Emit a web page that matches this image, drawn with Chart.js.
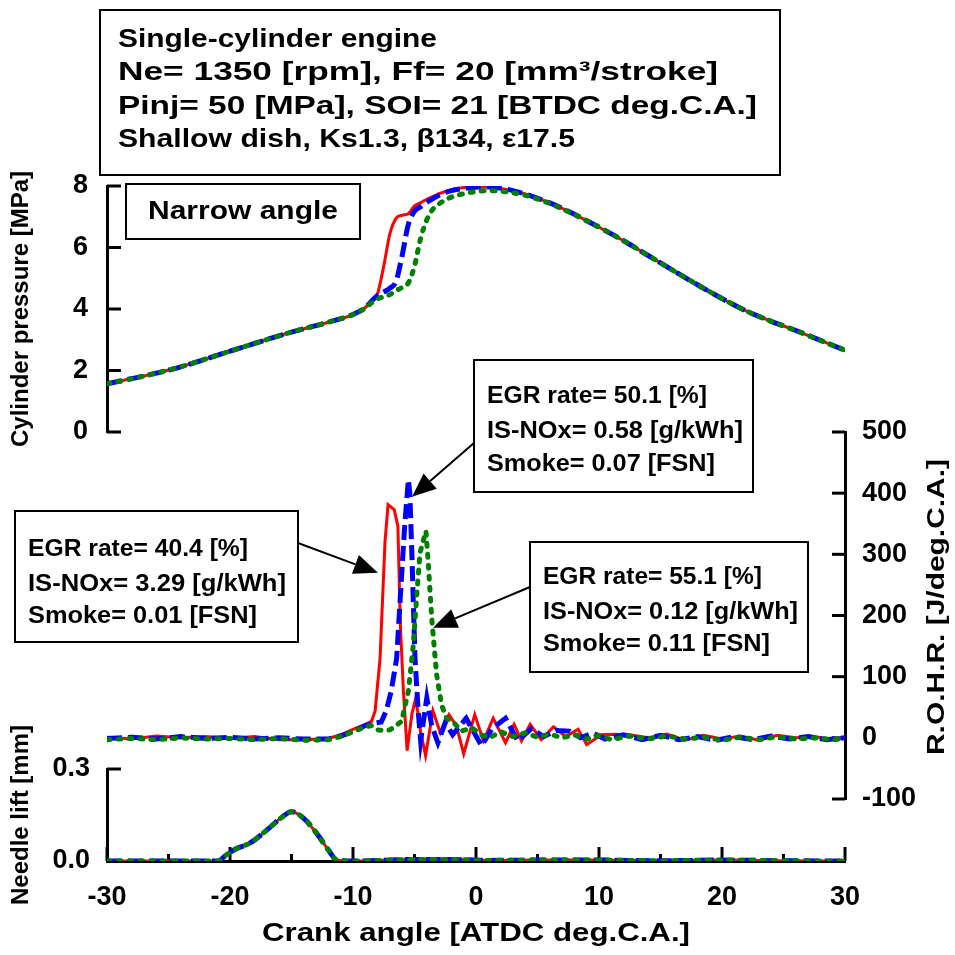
<!DOCTYPE html>
<html>
<head>
<meta charset="utf-8">
<script src="https://cdn.jsdelivr.net/npm/chart.js@4.4.1/dist/chart.umd.min.js"></script>
<style>
  html, body { margin: 0; padding: 0; background: #fff; }
  #wrap { width: 955px; height: 955px; }
</style>
</head>
<body>
<div id="wrap"><canvas id="c" width="955" height="955"></canvas></div>
<script>
// --- data ---
// crank angle [ATDC deg.C.A.] for the cylinder pressure traces
const pAngle = [-30,-27,-24,-21,-18,-15,-12,-10,-9,-8.5,-8,-7.5,-7,-6.5,-6,-5.5,-5,-4.5,-4,-3.5,
  -3,-2,-1,0,1,2,3,4,6,8,10,12,14,16,18,20,22,24,26,28,30];
// cylinder pressure [MPa]
const pRed = [1.57,1.82,2.12,2.5,2.88,3.25,3.57,3.82,4.05,4.25,4.5,5.4,6.45,6.95,7.05,7.1,7.35,7.46,7.57,7.66,
  7.75,7.88,7.95,7.97,7.97,7.92,7.84,7.74,7.45,7.08,6.66,6.22,5.74,5.26,4.79,4.34,3.93,3.6,3.3,2.98,2.66];
const pBlue = [1.57,1.82,2.12,2.5,2.88,3.25,3.57,3.82,4.05,4.25,4.45,4.55,4.68,4.9,5.75,6.75,7.18,7.33,7.47,7.59,
  7.7,7.85,7.92,7.96,7.97,7.93,7.85,7.74,7.45,7.08,6.66,6.22,5.74,5.26,4.79,4.34,3.93,3.6,3.3,2.98,2.66];
const pGreen = [1.57,1.82,2.12,2.5,2.88,3.25,3.57,3.82,4.03,4.2,4.33,4.4,4.47,4.6,4.7,4.85,5.4,6.3,6.9,7.25,
  7.42,7.64,7.75,7.82,7.85,7.83,7.78,7.7,7.43,7.07,6.66,6.22,5.74,5.26,4.79,4.34,3.93,3.6,3.3,2.98,2.66];

// rate of heat release [J/deg.C.A.]
const rRedAngle = [-30,-28,-26,-24,-22,-20,-18,-16,-14,-12,-11,-10,-9,-8.5,-8.2,-7.8,-7.4,-7.15,-6.65,-6.35,
  -6.15,-5.9,-5.6,-5.2,-4.9,-4.5,-4.1,-3.5,-2.9,-2.2,-1.6,-1.0,-0.1,0.6,1.4,2.4,3.1,3.7,4.4,5.3,
  6.3,7.3,8.3,9.0,10.2,11.3,12.5,14,15.5,17,18.5,20,21.5,23,24.5,26,27.5,29,30];
const rRed = [1,-2,3,0,2,-1,2,-3,-3,-1,5,14,22,27,44,130,320,381,373,346,
  184,76,-21,40,65,10,-29,44,8,38,20,-26,38,-5,32,-8,22,-5,22,-3,
  18,2,14,-11,5,6,5,0,6,-4,4,-2,3,-4,4,0,2,-3,0];
const rBlueAngle = [-30,-28,-26,-24,-22,-20,-18,-16,-14,-12,-11,-10,-9,-8.3,-7.7,-7.3,-6.9,-6.45,-6.05,-5.8,
  -5.5,-5.38,-5.2,-4.96,-4.7,-4.5,-4.0,-3.6,-3.1,-2.5,-1.9,-0.8,0.45,1.3,2.4,3.4,4.5,5.5,6.5,7.6,
  8.5,9.5,10.5,12,13.5,15,16.5,18,19.5,21,22.5,24,25.5,27,28.5,30];
const rBlue = [-1,1,-2,2,-1,1,-2,0,-2,-2,3,10,20,24,26,44,76,130,265,346,
  422,400,292,130,44,-5,65,20,-8,25,5,32,-13,15,32,-5,15,2,12,11,
  0,8,-2,5,-3,4,-3,2,-4,2,-3,3,-2,2,-3,0];
const rGreenAngle = [-30,-28,-26,-24,-22,-20,-18,-16,-14,-12,-11,-10,-9,-8.5,-8.0,-7.5,-7.0,-6.5,-6.05,-5.5,
  -5.1,-4.8,-4.55,-4.07,-3.9,-3.6,-3.2,-2.8,-2.4,-1.9,-1.2,-0.3,0.4,1.1,2,3,4,5,6,7,
  8,9,10,11,12.5,14,15.5,17,18.5,20,21.5,23,24.5,26,27.5,29,30];
const rGreen = [-3,-1,-3,0,-2,-1,-3,-1,-4,-3,2,10,18,20,13,12,13,20,27,76,
  151,238,303,338,292,195,103,54,32,27,11,16,5,0,10,2,8,1,6,0,
  5,-2,4,-3,3,-2,3,-2,1,-4,1,-3,2,-2,0,-3,-1];

// needle lift [mm] (the three cases overlap)
const nAngle = [-30,-25,-21,-20.3,-19.5,-18.4,-17,-15.9,-15,-14,-12.95,-12,-11.3,-10,-7,-5,-3,-1,1,5,10,15,20,25,30];
const nLift = [0,0,0,0.02,0.04,0.058,0.101,0.139,0.161,0.139,0.09,0.036,0.003,0,0.003,0.005,0.005,0.004,0.002,0.003,0.003,0.001,0.003,0.001,0];

// axis ticks
const xTicks = [-30,-25,-20,-15,-10,-5,0,5,10,15,20,25,30];
const pressureTicks = [0,2,4,6,8];
const rohrTicks = [-100,0,100,200,300,400,500];
const needleTicks = [0,0.3];

// annotation texts
const headerLines = ['Single-cylinder engine', 'Ne= 1350 [rpm], Ff= 20 [mm³/stroke]',
  'Pinj= 50 [MPa], SOI= 21 [BTDC deg.C.A.]', 'Shallow dish, Ks1.3, β134, ε17.5'];
const caseRed = ['EGR rate= 40.4 [%]', 'IS-NOx= 3.29 [g/kWh]', 'Smoke= 0.01 [FSN]'];
const caseBlue = ['EGR rate= 50.1 [%]', 'IS-NOx= 0.58 [g/kWh]', 'Smoke= 0.07 [FSN]'];
const caseGreen = ['EGR rate= 55.1 [%]', 'IS-NOx= 0.12 [g/kWh]', 'Smoke= 0.11 [FSN]'];

const SANS = '"Liberation Sans", Arial, sans-serif';
const pts = (xs, ys) => xs.map((x, i) => ({ x, y: ys[i] }));

const red = { borderColor: '#ff0000', borderWidth: 3, order: 3 };
const blue = { borderColor: '#0000ff', borderWidth: 5, borderDash: [15, 6], order: 2 };
const green = { borderColor: '#008000', borderWidth: 5, borderDash: [3, 8], borderCapStyle: 'round', order: 1 };

function fixTicks(list) {
  return scale => { scale.ticks = list.map(v => ({ value: v })); };
}
const tickFont = { family: SANS, weight: 'bold', size: 27 };
const titleFont = { family: SANS, weight: 'bold', size: 24 };

// bold text squeezed or widened to the width it has in the figure
function fitText(ctx, text, x, y, size, width, align) {
  ctx.font = 'bold ' + size + 'px ' + SANS;
  const sx = width / ctx.measureText(text).width;
  ctx.save();
  ctx.translate(x, y);
  ctx.scale(sx, 1);
  ctx.fillStyle = '#000';
  ctx.textAlign = align || 'left';
  ctx.textBaseline = 'middle';
  ctx.fillText(text, 0, 0);
  ctx.restore();
}

// inward tick marks and annotation boxes
const decor = {
  id: 'decor',
  beforeDatasetsDraw(chart) {
    const ctx = chart.ctx;
    const { x, pressure, needle, rohr } = chart.scales;
    ctx.save();
    ctx.strokeStyle = '#000';
    ctx.lineWidth = 3;
    const seg = (x1, y1, x2, y2) => { ctx.beginPath(); ctx.moveTo(x1, y1); ctx.lineTo(x2, y2); ctx.stroke(); };
    pressureTicks.forEach(v => { const y = pressure.getPixelForValue(v); seg(pressure.right, y, pressure.right + 14, y); });
    seg(needle.right, needle.getPixelForValue(0.3), needle.right + 14, needle.getPixelForValue(0.3));
    rohrTicks.forEach(v => { const y = rohr.getPixelForValue(v); seg(rohr.left, y, rohr.left - 13, y); });
    xTicks.forEach(v => {
      const px = x.getPixelForValue(v);
      seg(px, x.top, px, x.top - (v % 10 === 0 ? 14 : 7));
    });
    ctx.restore();
  },
  afterDatasetsDraw(chart) {
    const ctx = chart.ctx;
    const { x, rohr } = chart.scales;
    ctx.save();
    const box = (l, t, r, b) => {
      ctx.fillStyle = '#fff';
      ctx.fillRect(l, t, r - l, b - t);
      ctx.strokeStyle = '#000';
      ctx.lineWidth = 2;
      ctx.strokeRect(l, t, r - l, b - t);
    };
    const block = (list, x0, ys, size, widths) => {
      list.forEach((t, i) => fitText(ctx, t, x0, ys[i], size, widths[i]));
    };
    const arrow = (x1, y1, x2, y2) => {
      const a = Math.atan2(y2 - y1, x2 - x1);
      const L = 24, W = 10;
      const bx = x2 - L * Math.cos(a), by = y2 - L * Math.sin(a);
      ctx.strokeStyle = '#000';
      ctx.lineWidth = 2;
      ctx.beginPath(); ctx.moveTo(x1, y1); ctx.lineTo(bx, by); ctx.stroke();
      ctx.fillStyle = '#000';
      ctx.beginPath();
      ctx.moveTo(x2, y2);
      ctx.lineTo(bx + W * Math.sin(a), by - W * Math.cos(a));
      ctx.lineTo(bx - W * Math.sin(a), by + W * Math.cos(a));
      ctx.closePath();
      ctx.fill();
    };

    // header
    box(100, 10, 780, 175);
    block(headerLines, 118, [40, 73, 107, 140], 26, [319, 600, 639, 457]);

    // panel label
    box(126, 184, 360, 239);
    fitText(ctx, 'Narrow angle', 243, 212, 25, 190, 'center');

    // case boxes
    box(15, 511, 298, 642);
    block(caseRed, 28, [550, 585, 617], 23, [220, 258, 229]);
    box(474, 360, 753, 492);
    block(caseBlue, 487, [397, 432, 465], 23, [220, 256, 228]);
    box(530, 542, 808, 672);
    block(caseGreen, 543, [578, 613, 645], 23, [219, 255, 227]);

    arrow(298, 543, x.getPixelForValue(-7.97), rohr.getPixelForValue(270));
    arrow(474, 443, x.getPixelForValue(-5.2), rohr.getPixelForValue(394));
    arrow(530, 587, x.getPixelForValue(-3.5), rohr.getPixelForValue(180));

    // x axis title
    fitText(ctx, 'Crank angle [ATDC deg.C.A.]', (x.left + x.right) / 2, 934, 25, 428, 'center');

    // right axis title, read bottom to top
    ctx.translate(937, 607);
    ctx.rotate(-Math.PI / 2);
    fitText(ctx, 'R.O.H.R. [J/deg.C.A.]', 0, 0, 24, 296, 'center');
    ctx.restore();
  }
};

new Chart(document.getElementById('c'), {
  type: 'line',
  data: {
    datasets: [
      { ...green, data: pts(pAngle, pGreen), yAxisID: 'pressure', cubicInterpolationMode: 'monotone' },
      { ...blue, data: pts(pAngle, pBlue), yAxisID: 'pressure', cubicInterpolationMode: 'monotone' },
      { ...red, data: pts(pAngle, pRed), yAxisID: 'pressure', cubicInterpolationMode: 'monotone' },
      { ...green, data: pts(rGreenAngle, rGreen), yAxisID: 'rohr' },
      { ...blue, data: pts(rBlueAngle, rBlue), yAxisID: 'rohr' },
      { ...red, data: pts(rRedAngle, rRed), yAxisID: 'rohr' },
      { ...green, data: pts(nAngle, nLift), yAxisID: 'needle', cubicInterpolationMode: 'monotone' },
      { ...blue, data: pts(nAngle, nLift), yAxisID: 'needle', cubicInterpolationMode: 'monotone' },
      { ...red, data: pts(nAngle, nLift), yAxisID: 'needle', cubicInterpolationMode: 'monotone' }
    ]
  },
  options: {
    responsive: false,
    animation: false,
    events: [],
    elements: { point: { radius: 0 }, line: { tension: 0, fill: false } },
    layout: { padding: { top: 186, left: 0, right: 0, bottom: 0 } },
    plugins: { legend: { display: false }, tooltip: { enabled: false } },
    scales: {
      x: {
        type: 'linear', position: 'bottom', min: -30, max: 30,
        afterBuildTicks: fixTicks(xTicks),
        afterFit: s => { s.height = 94; },
        grid: { display: false, drawTicks: false },
        border: { display: true, width: 3, color: '#000' },
        ticks: { autoSkip: false, maxRotation: 0, padding: 20, color: '#000', font: tickFont,
          callback: v => (v % 10 === 0 ? String(v) : '') },
        title: { display: false }
      },
      pressure: {
        type: 'linear', position: 'left', stack: 'L', stackWeight: 246, weight: 3, min: 0, max: 8,
        afterBuildTicks: fixTicks(pressureTicks),
        afterFit: s => { s.width = 107; },
        grid: { display: false, drawTicks: false },
        border: { display: true, width: 3, color: '#000' },
        ticks: { autoSkip: false, padding: 19, color: '#000', font: tickFont },
        title: { display: true, text: 'Cylinder pressure [MPa]', color: '#000', font: titleFont, padding: { top: 7 } }
      },
      leftGap: {
        type: 'linear', position: 'left', stack: 'L', stackWeight: 337, weight: 2, display: false,
        afterFit: s => { s.width = 107; }
      },
      needle: {
        type: 'linear', position: 'left', stack: 'L', stackWeight: 92, weight: 1, min: 0, max: 0.3,
        afterBuildTicks: fixTicks(needleTicks),
        afterFit: s => { s.width = 107; },
        grid: { display: false, drawTicks: false },
        border: { display: true, width: 3, color: '#000' },
        ticks: { autoSkip: false, padding: 17, color: '#000', font: tickFont, callback: v => v.toFixed(1) },
        title: { display: true, text: 'Needle lift [mm]', color: '#000', font: titleFont, padding: { top: 7 } }
      },
      rightTop: {
        type: 'linear', position: 'right', stack: 'R', stackWeight: 246, weight: 1, display: false,
        afterFit: s => { s.width = 110; }
      },
      rohr: {
        type: 'linear', position: 'right', stack: 'R', stackWeight: 367, weight: 2, min: -100, max: 500,
        afterBuildTicks: fixTicks(rohrTicks),
        afterFit: s => { s.width = 110; },
        grid: { display: false, drawTicks: false },
        border: { display: true, width: 3, color: '#000' },
        ticks: { autoSkip: false, padding: 17, color: '#000', font: tickFont }
      },
      rightBottom: {
        type: 'linear', position: 'right', stack: 'R', stackWeight: 62, weight: 3, display: false,
        afterFit: s => { s.width = 110; }
      }
    }
  },
  plugins: [decor]
});
</script>
</body>
</html>
